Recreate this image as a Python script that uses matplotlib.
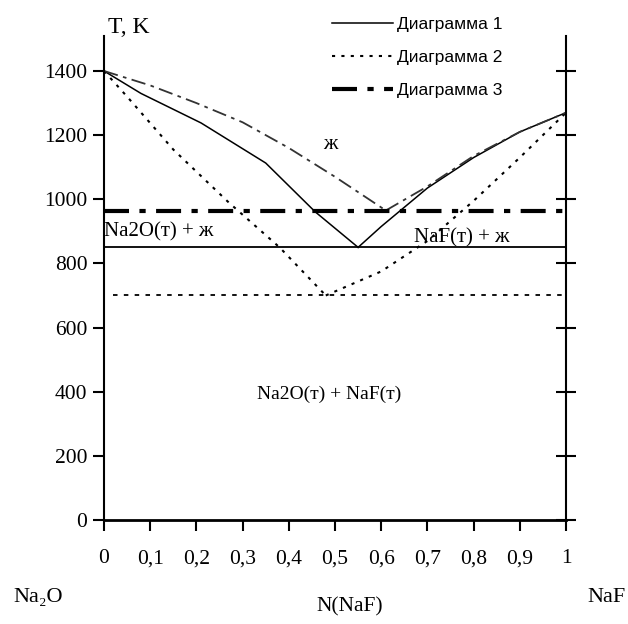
import numpy as np
import matplotlib.pyplot as plt

# Диаграмма 1 (сплошная)
x1_left = [0.0, 0.08, 0.21, 0.35, 0.457, 0.55]
t1_left = [1400, 1330, 1238, 1113, 961, 850]
x1_right = [0.55, 0.6, 0.7, 0.8, 0.9, 1.0]
t1_right = [850, 915, 1035, 1130, 1210, 1270]
t1_eut = 850

# Диаграмма 2 (точки)
x2_left = [0.0, 0.05, 0.15, 0.27, 0.38, 0.48]
t2_left = [1400, 1320, 1155, 990, 850, 700]
x2_right = [0.48, 0.6, 0.7, 0.8, 0.9, 1.0]
t2_right = [700, 775, 870, 995, 1130, 1270]
t2_eut = 700

# Диаграмма 3 (штрих-пунктир)
x3_left = [0.0, 0.1, 0.2, 0.3, 0.4, 0.5, 0.61]
t3_left = [1400, 1355, 1300, 1240, 1160, 1070, 965]
x3_right = [0.61, 0.7, 0.8, 0.9, 1.0]
t3_right = [965, 1040, 1135, 1210, 1270]
t3_eut = 963

xticks = [0, 0.1, 0.2, 0.3, 0.4, 0.5, 0.6, 0.7, 0.8, 0.9, 1.0]
xlabels = ['0', '0,1', '0,2', '0,3', '0,4', '0,5', '0,6', '0,7', '0,8', '0,9', '1']
yticks = [0, 200, 400, 600, 800, 1000, 1200, 1400]

serif = ['Liberation Serif', 'DejaVu Serif']
narrow = ['Liberation Sans Narrow', 'Liberation Sans', 'DejaVu Sans']

fig = plt.figure(figsize=(6.28, 6.24), dpi=100)
ax = fig.add_axes([0.1656, 0.1667, 0.9013 - 0.1656, 0.9428 - 0.1667])

dot = (0, (1.5, 3))
dashdot = (0, (8, 3, 2, 3))

l1, = ax.plot(x1_left, t1_left, color='black', lw=1.1, label='Диаграмма 1')
ax.plot(x1_right, t1_right, color='black', lw=1.1)
ax.plot([0, 1], [t1_eut, t1_eut], color='black', lw=1.3)

l2, = ax.plot(x2_left, t2_left, color='black', lw=1.5, linestyle=dot, label='Диаграмма 2')
ax.plot(x2_right, t2_right, color='black', lw=1.5, linestyle=dot)
ax.plot([0.02, 1], [t2_eut, t2_eut], color='black', lw=1.3, linestyle=(0, (2.5, 3.5)))

ax.plot(x3_left, t3_left, color='#333333', lw=1.3, linestyle=dashdot)
ax.plot(x3_right, t3_right, color='#333333', lw=1.3, linestyle=dashdot)
l3, = ax.plot([0, 1], [t3_eut, t3_eut], color='black', lw=3, linestyle=(0, (6, 2.5, 1.5, 2.5)),
              label='Диаграмма 3')

ax.set_xlim(0, 1)
ax.set_ylim(0, 1510)
ax.spines['top'].set_visible(False)
ax.spines['left'].set_linewidth(1.5)
ax.spines['right'].set_linewidth(1.5)
ax.spines['bottom'].set_linewidth(2)

ax.set_xticks(xticks)
ax.set_xticklabels(xlabels, family=serif, fontsize=15.5)
ax.set_yticks(yticks)
ax.set_yticklabels([str(v) for v in yticks], family=serif, fontsize=15.5)
ax.tick_params(axis='x', direction='out', length=8, width=1.5, pad=13)
ax.tick_params(axis='y', direction='out', length=8, width=1.5, pad=4)

# правая ось с рисками
ax2 = ax.twinx()
ax2.set_ylim(ax.get_ylim())
ax2.set_yticks(yticks)
ax2.set_yticklabels([])
ax2.tick_params(axis='y', direction='inout', length=14, width=1.5)
for s in ax2.spines.values():
    s.set_visible(False)

ax.text(0.008, 1537, 'T, K', family=serif, fontsize=17, ha='left', va='center')
ax.text(0.0, 898, 'Na2O(т) + ж', family=serif, fontsize=15, ha='left', va='center')
ax.text(0.67, 880, 'NaF(т) + ж', family=serif, fontsize=15, ha='left', va='center')
ax.text(0.49, 1172, 'ж', family=serif, fontsize=15, ha='center', va='center')
ax.text(0.487, 392, 'Na2O(т) + NaF(т)', family=serif, fontsize=14, ha='center', va='center')

fig.text(38 / 628, 1 - 597 / 624, 'Na₂O', family=serif, fontsize=16, ha='center', va='center')
fig.text(607 / 628, 1 - 597 / 624, 'NaF', family=serif, fontsize=16, ha='center', va='center')
fig.text(350 / 628, 1 - 607 / 624, 'N(NaF)', family=serif, fontsize=15.5, ha='center', va='center')

fig.legend(handles=[l1, l2, l3], loc='upper left', bbox_to_anchor=(332 / 628, 1 - 17 / 624),
           frameon=False, borderpad=0, borderaxespad=0, handlelength=3.5, handletextpad=0.25,
           labelspacing=1.02, prop={'family': narrow, 'size': 12.5})

fig.savefig('out.png', dpi=100)
